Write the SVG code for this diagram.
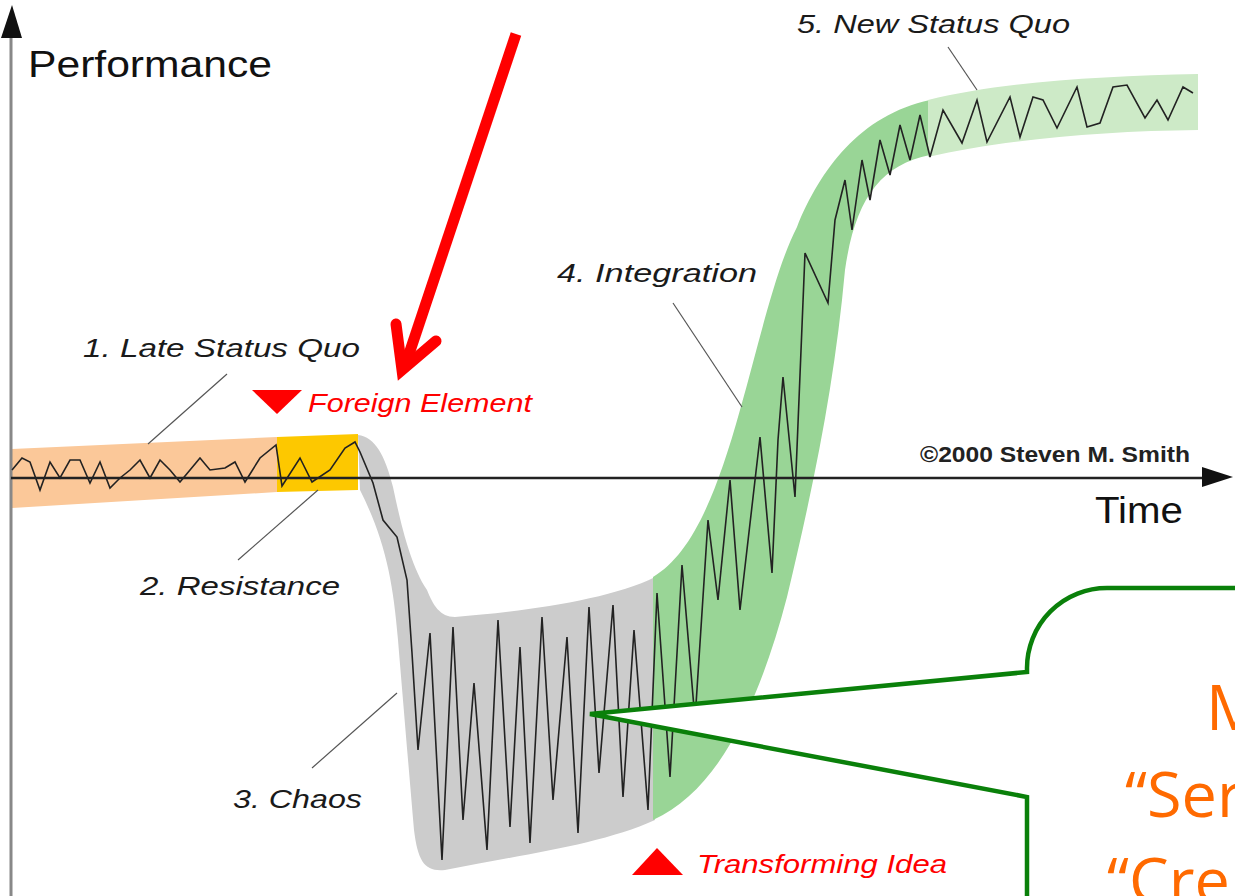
<svg xmlns="http://www.w3.org/2000/svg" width="1235" height="896" viewBox="0 0 1235 896">
<style>
.lbl{font-family:"Liberation Sans",Arial,sans-serif;font-style:italic;font-size:26px;fill:#1a1a1a}
.red{font-family:"Liberation Sans",Arial,sans-serif;font-style:italic;font-size:26px;fill:#ff0000}
.leader{stroke:#555;stroke-width:1.2;fill:none}
.zig{stroke:#222;stroke-width:1.6;fill:none;stroke-linejoin:miter}
.call{font-family:"Open Sans","Noto Sans",sans-serif;font-size:63px;fill:#ff6a00}
</style>
<rect width="1235" height="896" fill="#ffffff"/>

<g id="bands">
<path id="band-late" d="M12,449 L277,437 L277,492 L12,508 Z" fill="#fbc899"/>
<path id="band-resistance" d="M277,437 L358,434 L358,490 L277,492 Z" fill="#fdc800"/>
<path id="band-chaos" d="M358,435 C375,437 385,455 393,487 C400,520 410,565 427,590 C433,605 440,617 455,617 C520,612 610,600 655,577 L655,820 C600,845 520,855 445,870 C425,872 418,862 414,830 C408,760 403,700 398,640 C393,580 385,540 360,490 Z" fill="#cccccc"/>
<path id="band-integration" d="M653,577 C690,555 715,500 740,410 C760,340 775,270 797,227 C820,170 860,115 930,100 L930,155 C880,165 855,200 845,270 C835,380 815,480 787,597 C760,700 720,790 653,820 Z" fill="#99d596"/>
<path id="band-new" d="M928,100 C1000,82 1100,76 1198,74 L1198,130 C1100,131 1000,140 928,157 Z" fill="#cdeac7"/>
</g>

<g id="axes">
<line x1="11" y1="30" x2="11" y2="896" stroke="#888" stroke-width="3"/>
<polygon points="12,5 1,38 22,38" fill="#111"/>
<line x1="11" y1="478" x2="1205" y2="478" stroke="#222" stroke-width="2.5"/>
<polygon points="1233,477 1202,467 1202,487" fill="#111"/>
<text x="28" y="77" font-family="Liberation Sans,Arial,sans-serif" font-size="37" fill="#111" textLength="244" lengthAdjust="spacingAndGlyphs">Performance</text>
<text x="1095" y="523" font-family="Liberation Sans,Arial,sans-serif" font-size="36" fill="#111" textLength="88" lengthAdjust="spacingAndGlyphs">Time</text>
<text x="920" y="462" font-family="Liberation Sans,Arial,sans-serif" font-size="22" font-weight="bold" fill="#222" textLength="270" lengthAdjust="spacingAndGlyphs">©2000 Steven M. Smith</text>
</g>

<polyline class="zig" points="12,470 22,458 30,462 40,490 50,462 60,478 70,460 80,460 90,483 100,462 110,488 120,478 130,470 140,460 150,478 160,460 170,470 180,482 190,470 200,458 210,470 225,468 235,462 245,482 260,458 276,445 282,486 300,458 312,482 330,470 345,448 355,442 360,452 373,483 383,520 397,537 407,580 412,653 418,750 430,633 442,860 453,627 463,820 474,683 487,850 498,620 510,827 520,647 530,843 542,617 553,800 567,637 578,833 589,607 599,773 613,605 623,797 634,630 648,810 657,593 670,777 682,565 695,720 708,520 718,600 730,480 740,610 760,437 772,573 778,440 783,377 795,497 805,253 828,303 835,220 845,180 852,230 862,160 870,200 880,140 890,175 900,125 910,160 920,115 930,157 943,110 962,143 977,100 987,142 1010,97 1020,137 1033,97 1043,100 1057,128 1077,87 1087,127 1100,123 1113,87 1127,85 1145,118 1157,100 1168,120 1183,87 1193,93"/>

<g id="connectors">
<line class="leader" x1="227" y1="374" x2="148" y2="444"/>
<line class="leader" x1="318" y1="490" x2="238" y2="560"/>
<line class="leader" x1="397" y1="693" x2="312" y2="768"/>
<line class="leader" x1="673" y1="303" x2="742" y2="407"/>
<line class="leader" x1="948" y1="47" x2="977" y2="90"/>
<g id="red-arrow" stroke="#ff0000" stroke-width="11" fill="none" stroke-linecap="round">
<line x1="516" y1="34" x2="405" y2="366" stroke-linecap="butt"/>
<polyline points="396,324 402,370 436,341" stroke-linejoin="miter" stroke-miterlimit="10"/>
</g>
</g>

<g id="node-late"><text class="lbl" x="83" y="357" textLength="277" lengthAdjust="spacingAndGlyphs">1. Late Status Quo</text></g>
<g id="node-resistance"><text class="lbl" x="140" y="595" textLength="200" lengthAdjust="spacingAndGlyphs">2. Resistance</text></g>
<g id="node-chaos"><text class="lbl" x="233" y="808" textLength="129" lengthAdjust="spacingAndGlyphs">3. Chaos</text></g>
<g id="node-integration"><text class="lbl" x="557" y="282" textLength="200" lengthAdjust="spacingAndGlyphs">4. Integration</text></g>
<g id="node-new"><text class="lbl" x="797" y="33" textLength="273" lengthAdjust="spacingAndGlyphs">5. New Status Quo</text></g>
<g id="node-foreign">
<polygon points="252,390 302,390 277,414" fill="#ff0000"/>
<text class="red" x="308" y="412" textLength="224" lengthAdjust="spacingAndGlyphs">Foreign Element</text>
</g>
<g id="node-transforming">
<polygon points="632,875 683,875 657,848" fill="#ff0000"/>
<text class="red" x="697" y="873" textLength="250" lengthAdjust="spacingAndGlyphs">Transforming Idea</text>
</g>

<g id="node-callout">
<path d="M1245,588 L1107,588 A80,80 0 0 0 1027,668 L1027,672 L590,714 L1027,797 L1027,905 L1245,905 Z" fill="#ffffff" stroke="#0a800a" stroke-width="4.5" stroke-linejoin="miter"/>
<text class="call" x="1206" y="730">M</text>
<text class="call" x="1125" y="817">“Ser</text>
<text class="call" x="1107" y="903">“Cre</text>
</g>
</svg>
